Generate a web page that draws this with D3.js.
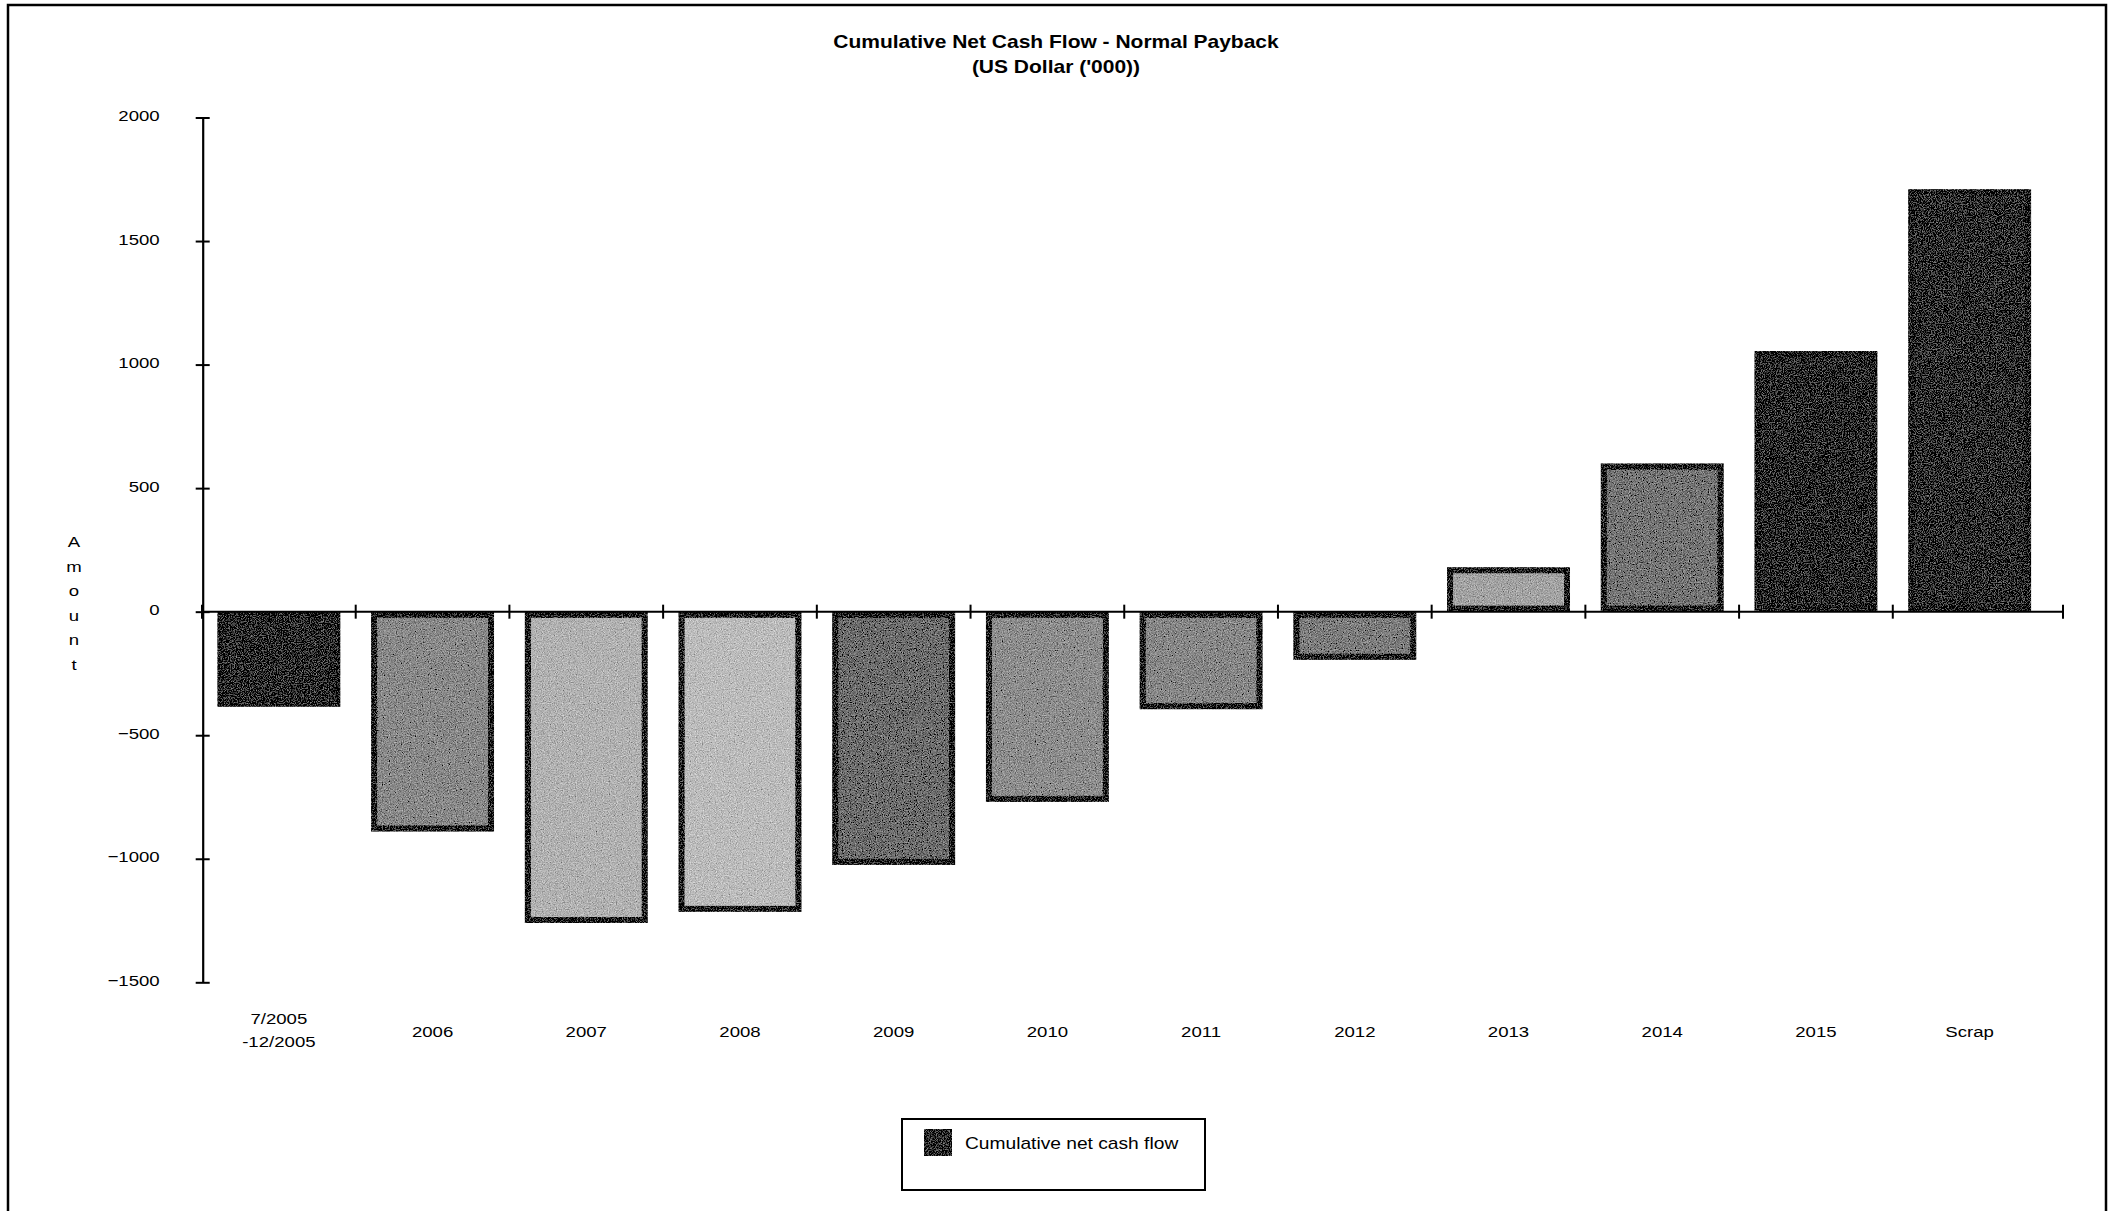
<!DOCTYPE html>
<html>
<head>
<meta charset="utf-8">
<script src="https://cdn.jsdelivr.net/npm/d3@7"></script>
<style>
  body { margin: 0; background: #fff; }
  svg { display: block; }
  text { font-family: "Liberation Sans", Arial, sans-serif; fill: #000; }
</style>
</head>
<body>
<svg id="chart" width="2114" height="1211"></svg>
<script>
// Cumulative net cash flow per period, US$ thousands
const categories = ["7/2005\n-12/2005", "2006", "2007", "2008", "2009", "2010",
                    "2011", "2012", "2013", "2014", "2015", "Scrap"];
const cumulativeNetCashFlow = [-385, -890, -1260, -1215, -1025, -770,
                               -395, -195, 180, 600, 1055, 1710];
const yTicks = [-1500, -1000, -500, 0, 500, 1000, 1500, 2000];
const seriesName = "Cumulative net cash flow";
const titleLines = ["Cumulative Net Cash Flow - Normal Payback", "(US Dollar ('000))"];
const axisTitle = "Amount";

// printed grey tone of each bar
const barTones = ["#2b2b2b", "#8a8a8a", "#b2b2b2", "#bcbcbc", "#6e6e6e", "#8e8e8e",
                  "#888888", "#7e7e7e", "#a4a4a4", "#767676", "#272727", "#2e2e2e"];

const W = 2114, H = 1211;
const STRETCH = 1.2;            // wide-set lettering
const svg = d3.select("#chart");

// grainy print texture for the bars
const defs = svg.append("defs");
const f = defs.append("filter").attr("id", "grain")
  .attr("filterUnits", "userSpaceOnUse")
  .attr("x", 0).attr("y", 0).attr("width", W).attr("height", H);
f.append("feTurbulence").attr("type", "fractalNoise").attr("baseFrequency", 0.85)
  .attr("numOctaves", 2).attr("seed", 7).attr("result", "noise");
f.append("feColorMatrix").attr("in", "noise").attr("type", "matrix")
  .attr("values", "0.33 0.33 0.33 0 0  0.33 0.33 0.33 0 0  0.33 0.33 0.33 0 0  0 0 0 0 1")
  .attr("result", "grey");
f.append("feComposite").attr("in", "SourceGraphic").attr("in2", "grey")
  .attr("operator", "arithmetic").attr("k1", 0).attr("k2", 1).attr("k3", 1.3).attr("k4", -0.65)
  .attr("result", "mixed");
f.append("feComposite").attr("in", "mixed").attr("in2", "SourceGraphic").attr("operator", "in");

// outer frame
svg.append("rect")
  .attr("x", 8).attr("y", 5).attr("width", 2098).attr("height", 1300)
  .attr("fill", "none").attr("stroke", "#000").attr("stroke-width", 2.5);

function wideText(sel, x, y) {
  return sel.attr("transform", `translate(${x},${y}) scale(${STRETCH},1)`);
}

// title
titleLines.forEach((t, i) => {
  wideText(svg.append("text"), 1056, 48 + i * 25)
    .attr("text-anchor", "middle")
    .attr("font-weight", "bold")
    .attr("font-size", 17.5)
    .text(t);
});

// scales
const axisStart = 202, axisEnd = 2063;
const x = d3.scaleBand().domain(categories).range([axisStart, 2046.5])
  .paddingInner(0.2).paddingOuter(0.1);
const y = d3.scaleLinear().domain([-1500, 2000]).range([982.3, 117.5]);

// bars
const sw = 6;
svg.append("g").attr("filter", "url(#grain)")
  .selectAll("rect").data(cumulativeNetCashFlow).join("rect")
  .attr("x", (d, i) => x(categories[i]) + sw / 2)
  .attr("width", x.bandwidth() - sw)
  .attr("y", d => y(Math.max(0, d)) + sw / 2)
  .attr("height", d => Math.abs(y(d) - y(0)) - sw)
  .attr("fill", (d, i) => barTones[i])
  .attr("stroke", "#141414")
  .attr("stroke-width", sw);

// value axis
const yAxis = svg.append("g").attr("transform", `translate(${axisStart + 0.7},0)`)
  .call(d3.axisLeft(y).tickValues(yTicks).tickFormat(d3.format("d")).tickSizeOuter(0));
yAxis.select(".domain").attr("stroke", "#000").attr("stroke-width", 2.2);
yAxis.selectAll(".tick line").attr("x1", -7).attr("x2", 7).attr("stroke-width", 2);
yAxis.selectAll(".tick text")
  .attr("font-size", 15.5).attr("font-family", "Liberation Sans, Arial, sans-serif")
  .attr("x", -43 / STRETCH).attr("dy", "0.2em")
  .attr("transform", `scale(${STRETCH},1)`);

// category axis along the zero line
const zeroY = y(0);
const catAxis = svg.append("g");
catAxis.append("line")
  .attr("x1", axisStart).attr("x2", axisEnd)
  .attr("y1", zeroY).attr("y2", zeroY)
  .attr("stroke", "#000").attr("stroke-width", 2);
const gap = (x.step() - x.bandwidth()) / 2;
const boundaries = categories.map(c => x(c) - gap).concat([axisEnd]);
catAxis.selectAll("line.tick").data(boundaries).join("line")
  .attr("class", "tick")
  .attr("x1", d => d).attr("x2", d => d)
  .attr("y1", zeroY - 7).attr("y2", zeroY + 7)
  .attr("stroke", "#000").attr("stroke-width", 2);

// category labels below the plot
categories.forEach(c => {
  const lines = c.split("\n");
  const cx = x(c) + x.bandwidth() / 2;
  lines.forEach((ln, j) => {
    const base = lines.length === 1 ? 1037 : 1024 + j * 23;
    wideText(svg.append("text"), cx, base)
      .attr("text-anchor", "middle")
      .attr("font-size", 15.5)
      .text(ln);
  });
});

// stacked axis title
axisTitle.split("").forEach((ch, i) => {
  wideText(svg.append("text"), 74, 547 + i * 24.6)
    .attr("text-anchor", "middle")
    .attr("font-size", 15.5)
    .text(ch);
});

// legend
const lg = svg.append("g");
lg.append("rect")
  .attr("x", 902).attr("y", 1119).attr("width", 303).attr("height", 71)
  .attr("fill", "#fff").attr("stroke", "#000").attr("stroke-width", 2);
lg.append("rect")
  .attr("x", 925).attr("y", 1130).attr("width", 26).attr("height", 25)
  .attr("fill", barTones[0]).attr("stroke", "#111").attr("stroke-width", 2)
  .attr("filter", "url(#grain)");
wideText(lg.append("text"), 965, 1149)
  .attr("font-size", 16)
  .text(seriesName);
</script>
</body>
</html>
